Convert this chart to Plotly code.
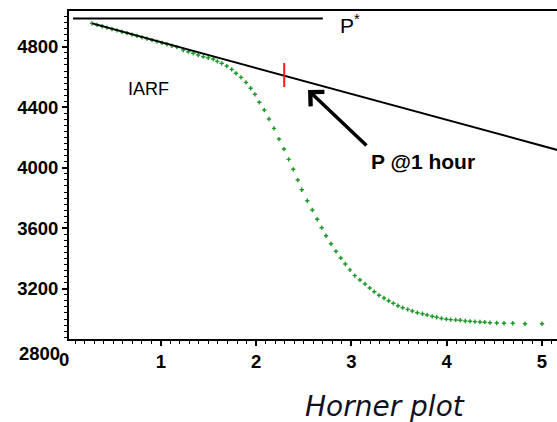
import plotly.graph_objects as go

# Horner plot data (log Horner time vs pressure)
horner_x = [0.278, 0.331, 0.383, 0.435, 0.488, 0.540, 0.593, 0.645, 0.698, 0.750,
            0.803, 0.855, 0.908, 0.960, 1.013, 1.065, 1.118, 1.170,
            1.236, 1.289, 1.341, 1.393, 1.446, 1.498, 1.551, 1.593, 1.639, 1.692,
            1.744, 1.789, 1.842, 1.894, 1.943, 1.988, 2.034, 2.086, 2.135, 2.188,
            2.240, 2.293, 2.342, 2.390, 2.437, 2.479,
            2.537, 2.590, 2.642, 2.688, 2.734, 2.786, 2.838, 2.888, 2.936, 2.985,
            3.035, 3.090, 3.143, 3.192, 3.240, 3.290, 3.342, 3.391, 3.440, 3.489,
            3.538, 3.591, 3.639, 3.692,
            3.746, 3.795, 3.848, 3.895, 3.945, 3.996, 4.042, 4.094, 4.143, 4.195,
            4.245, 4.297, 4.349, 4.399, 4.454, 4.525, 4.601, 4.693, 4.822, 5.000]
pressure = [4955, 4945, 4936, 4927, 4918, 4909, 4900, 4891, 4881, 4872,
            4863, 4854, 4844, 4835, 4826, 4817, 4807, 4798,
            4779, 4768, 4757, 4746, 4735, 4728, 4719, 4704, 4691, 4673,
            4651, 4625, 4598, 4565, 4526, 4486, 4433, 4382, 4323, 4261,
            4190, 4124, 4056, 3990, 3919, 3855,
            3782, 3721, 3660, 3604, 3551, 3498, 3448, 3404, 3364, 3325,
            3287, 3258, 3232, 3205, 3181, 3157, 3139, 3121, 3104, 3088,
            3075, 3064, 3053, 3042,
            3035, 3027, 3018, 3012, 3004, 2999, 2996, 2994, 2992, 2987,
            2985, 2983, 2981, 2979, 2976, 2974, 2972, 2972, 2969, 2969]

# straight IARF line
iarf_x = [0.28, 5.25]
iarf_y = [4955, 4103]

# P* line
pstar_x = [0.079, 2.70]
pstar_y = [4988, 4988]

# red marker at 1 hour
red_x = [2.295, 2.295]
red_y = [4693, 4534]

x_tick_vals = [1, 2, 3, 4, 5]
x_tick_text = ["1", "2", "3", "4", "5"]
y_tick_vals = [3200, 3600, 4000, 4400, 4800]
y_tick_text = ["3200", "3600", "4000", "4400", "4800"]

fig = go.Figure()
fig.add_trace(go.Scatter(x=horner_x, y=pressure, mode="markers",
                         marker=dict(symbol="cross", size=3.6, color="#1f9a2a",
                                     line=dict(width=0)),
                         showlegend=False, hoverinfo="skip"))
fig.add_trace(go.Scatter(x=iarf_x, y=iarf_y, mode="lines",
                         line=dict(color="black", width=2), showlegend=False,
                         hoverinfo="skip"))
fig.add_trace(go.Scatter(x=pstar_x, y=pstar_y, mode="lines",
                         line=dict(color="black", width=2), showlegend=False,
                         hoverinfo="skip"))
fig.add_trace(go.Scatter(x=red_x, y=red_y, mode="lines",
                         line=dict(color="#ff1a1a", width=2), showlegend=False,
                         hoverinfo="skip"))

tickfont = dict(family="Liberation Sans", size=18.5, color="black", weight="bold")

fig.update_layout(
    width=557, height=422,
    margin=dict(l=69, r=0, t=11, b=83),
    paper_bgcolor="white", plot_bgcolor="white",
    xaxis=dict(range=[0.0367, 5.1574], showgrid=False, zeroline=False,
               showline=True, linecolor="black", linewidth=2, mirror=True,
               tickvals=x_tick_vals, ticktext=x_tick_text,
               ticks="outside", ticklen=5, tickwidth=1.5, tickcolor="black",
               tickfont=tickfont,
               minor=dict(dtick=0.1, ticks="outside", ticklen=3,
                          tickcolor="black", tickwidth=1)),
    yaxis=dict(range=[2868, 5037], showgrid=False, zeroline=False,
               showline=True, linecolor="black", linewidth=2, mirror=False,
               tickvals=y_tick_vals, ticktext=y_tick_text,
               ticks="outside", ticklen=5, tickwidth=1.5, tickcolor="black",
               tickfont=tickfont,
               minor=dict(dtick=40, ticks="outside", ticklen=3,
                          tickcolor="black", tickwidth=1)),
    font=dict(family="Liberation Sans", color="black"),
)

# extra corner labels (outside axis range, so placed in paper coordinates)
fig.add_annotation(x=-0.0102, y=0, xref="paper", yref="paper", text="0", showarrow=False,
                   xanchor="center", yanchor="top", yshift=-8,
                   font=dict(family="Liberation Sans", size=18.5, color="black", weight="bold"))
fig.add_annotation(x=-0.0143, y=-0.0457, xref="paper", yref="paper", text="2800", showarrow=False,
                   xanchor="right", yanchor="middle",
                   font=dict(family="Liberation Sans", size=18.5, color="black", weight="bold"))

# text labels
fig.add_annotation(x=0.876, y=4524, text="IARF", showarrow=False,
                   font=dict(family="Liberation Sans", size=18, color="black"))
fig.add_annotation(x=2.859, y=4950, text="P<sup>*</sup>", showarrow=False,
                   xanchor="left",
                   font=dict(family="Liberation Sans", size=21, color="black"))
fig.add_annotation(x=3.751, y=4045, text="P @1 hour", showarrow=False,
                   font=dict(family="Liberation Sans", size=21, color="black", weight="bold"))
# arrow
fig.add_annotation(x=2.545, y=4514, ax=3.174, ay=4138, axref="x", ayref="y",
                   text="", showarrow=True, arrowhead=4, arrowsize=1.1,
                   arrowwidth=3.5, arrowcolor="black", standoff=0)

fig.add_annotation(x=0.6475, y=-0.205, xref="paper", yref="paper",
                   text="Horner plot", showarrow=False,
                   xanchor="center", yanchor="middle",
                   font=dict(family="DejaVu Sans", size=28, color="#111122", style="italic"))

fig.write_html("out.html",
               config={"displayModeBar": False},
               post_script="document.body.style.margin='0';document.body.style.padding='0';")
